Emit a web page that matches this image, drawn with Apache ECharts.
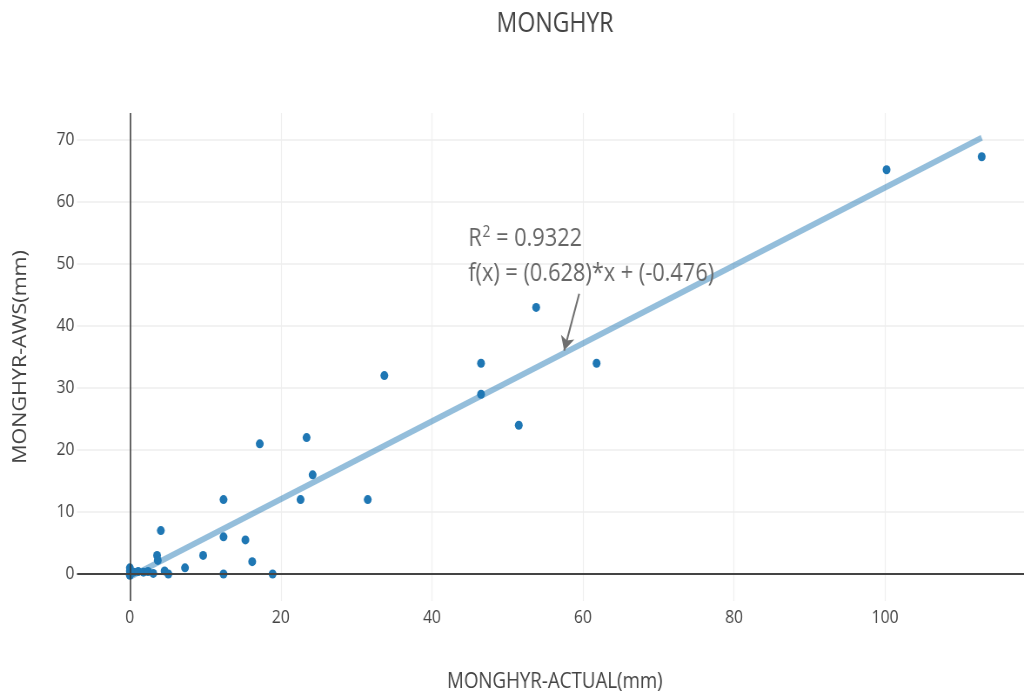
<!DOCTYPE html>
<html>
<head>
<meta charset="utf-8">
<script src="https://cdn.jsdelivr.net/npm/echarts@6/dist/echarts.min.js"></script>
<style>
  html, body { margin: 0; padding: 0; overflow: hidden; background: #fff; }
  /* the chart is laid out wider and condensed horizontally */
  #chart { width: 1178px; height: 698px; transform: scaleX(0.87); transform-origin: 0 0; }
</style>
</head>
<body>
<div id="chart"></div>
<script>
// Station rainfall: manual gauge (actual) vs automatic weather station (AWS), in mm
const chartTitle = 'MONGHYR';
const xTitle = 'MONGHYR-ACTUAL(mm)';
const yTitle = 'MONGHYR-AWS(mm)';

const actual = [0, 0, 0, 0, 0.5, 1.1, 1.8, 2.4, 3.1, 3.6, 3.7, 4.1, 4.6, 5.1, 7.3, 9.7,
  12.4, 12.4, 12.4, 15.3, 16.2, 17.2, 18.9, 22.6, 23.4, 24.2, 31.5, 33.7,
  46.5, 46.5, 51.5, 53.8, 61.8, 100.2, 112.8];
const aws = [1.0, 0.5, 0, -0.2, 0.3, 0.4, 0.3, 0.4, 0.1, 3.0, 2.2, 7.0, 0.5, 0, 1.0, 3.0,
  12.0, 6.0, 0, 5.5, 2.0, 21.0, 0, 12.0, 22.0, 16.0, 12.0, 32.0,
  34.0, 29.0, 24.0, 43.0, 34.0, 65.2, 67.3];

// least-squares fit as reported on the chart
const slope = 0.628;
const intercept = -0.476;
const rSquared = '0.9322';

// annotation anchor (data coordinates) and arrow from the label to the fit line
const noteAnchor = [44.8, 56.9];
const arrowTail = [59.5, 45.2];
const arrowHeadX = 57.5;

const points = actual.map((x, i) => [x, aws[i]]);
const xMin = Math.min(...actual), xMax = Math.max(...actual);
const fitLine = [xMin, xMax].map(x => [x, slope * x + intercept]);

const font = "'Open Sans', 'DejaVu Sans', sans-serif";
const textColor = '#444';

const chart = echarts.init(document.getElementById('chart'), null, { renderer: 'canvas' });
chart.setOption({
  animation: false,
  backgroundColor: '#fff',
  textStyle: { fontFamily: font },
  title: {
    text: chartTitle,
    left: 633, top: 6, textAlign: 'center',
    textStyle: { fontFamily: font, fontSize: 26.5, fontWeight: 'normal', color: textColor }
  },
  grid: { left: 88.5, right: 1, top: 113, bottom: 97, containLabel: false },
  xAxis: {
    type: 'value', min: -7.0, max: 118.4, splitNumber: 6,
    name: xTitle, nameLocation: 'middle', nameGap: 70,
    nameTextStyle: { fontFamily: font, fontSize: 21.5, color: textColor, padding: [0, 0, 0, 10] },
    axisLine: { show: false }, axisTick: { show: false },
    axisLabel: { fontFamily: font, fontSize: 18, color: textColor, margin: 8, showMinLabel: false, showMaxLabel: false },
    splitLine: { show: true, showMinLine: false, showMaxLine: false, lineStyle: { color: '#eeeeee', width: 1.2 } }
  },
  yAxis: {
    type: 'value', min: -4.35, max: 74.35, splitNumber: 7,
    name: yTitle, nameLocation: 'middle', nameGap: 54, nameRotate: 90,
    nameTextStyle: { fontFamily: font, fontSize: 21.5, color: textColor },
    axisLine: { show: false }, axisTick: { show: false },
    axisLabel: { fontFamily: font, fontSize: 18, color: textColor, margin: 3, showMinLabel: false, showMaxLabel: false },
    splitLine: { show: true, showMinLine: false, showMaxLine: false, lineStyle: { color: '#eeeeee', width: 1.5 } }
  },
  series: [
    {
      name: 'fit',
      type: 'line',
      data: fitLine,
      symbol: 'none',
      z: 2,
      lineStyle: { color: 'rgba(31,119,180,0.48)', width: 6 },
      markLine: {
        silent: true,
        symbol: ['none', 'arrow'],
        symbolSize: [12, 14],
        label: { show: false },
        lineStyle: { color: '#6f6f6f', width: 2, type: 'solid' },
        data: [[
          { coord: arrowTail },
          { coord: [arrowHeadX, slope * arrowHeadX + intercept + 0.4] }
        ]]
      },
      markPoint: {
        silent: true,
        symbol: 'circle', symbolSize: 0,
        data: [{ coord: noteAnchor }],
        label: {
          show: true,
          position: [0, 0],
          align: 'left', verticalAlign: 'top',
          formatter: '{b|R}{s|2}{b| = ' + rSquared + '}\n{b|f(x) = (' + slope + ')*x + (' + intercept + ')}',
          rich: {
            b: { fontFamily: font, fontSize: 25, lineHeight: 35, color: '#666' },
            s: { fontFamily: font, fontSize: 16, lineHeight: 16, color: '#666', verticalAlign: 'top', padding: [3, 0, 0, 1] }
          }
        }
      }
    },
    {
      name: 'stations',
      type: 'scatter',
      data: points,
      symbolSize: 9,
      z: 3,
      itemStyle: { color: '#1f77b4', opacity: 1 },
      markLine: {
        silent: true,
        symbol: 'none',
        label: { show: false },
        data: [
          { xAxis: 0, lineStyle: { color: '#333', width: 1.5, type: 'solid' } },
          { yAxis: 0, lineStyle: { color: '#444', width: 2, type: 'solid' } }
        ]
      }
    }
  ]
});
</script>
</body>
</html>
